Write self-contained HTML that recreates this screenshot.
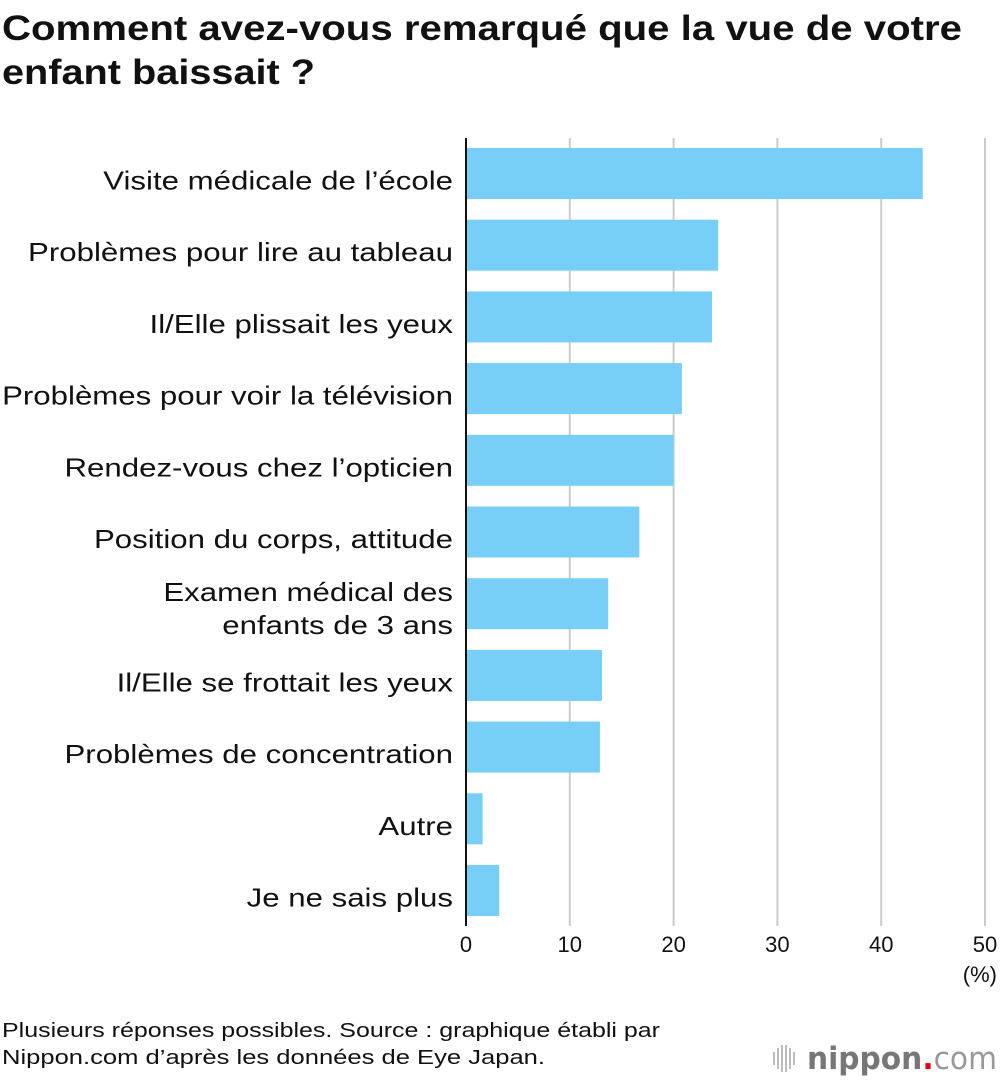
<!DOCTYPE html>
<html><head><meta charset="utf-8"><style>
body{margin:0;background:#fff;width:1000px;height:1080px;overflow:hidden;font-family:"Liberation Sans",sans-serif}
</style></head><body>
<svg id="chart" width="1000" height="1080" xmlns="http://www.w3.org/2000/svg">
<text x="2" y="40" font-size="35" font-weight="bold" fill="#111" textLength="960" lengthAdjust="spacingAndGlyphs">Comment avez-vous remarqué que la vue de votre</text>
<text x="2" y="84" font-size="35" font-weight="bold" fill="#111" textLength="313" lengthAdjust="spacingAndGlyphs">enfant baissait ?</text>
<g id="grid"></g><g id="bars"></g><g id="labels"></g><g id="ticks"></g>
<line x1="466" y1="138" x2="466" y2="926" stroke="#111" stroke-width="2"/>
<text x="997" y="982" font-size="22" text-anchor="end" fill="#111">(%)</text>
<text x="2" y="1037" font-size="20" fill="#111" textLength="658" lengthAdjust="spacingAndGlyphs">Plusieurs réponses possibles. Source : graphique établi par</text>
<text x="2" y="1064" font-size="20" fill="#111" textLength="543" lengthAdjust="spacingAndGlyphs">Nippon.com d’après les données de Eye Japan.</text>
<g>
<g fill="#bbb"><rect x="773" y="1052" width="2" height="13"/><rect x="777" y="1048" width="2" height="21"/><rect x="781" y="1045" width="2" height="27"/><rect x="785" y="1045" width="2" height="27"/><rect x="789" y="1048" width="2" height="21"/><rect x="793" y="1052" width="2" height="13"/></g>
<text x="807" y="1069" font-size="31" font-family="DejaVu Sans, sans-serif" font-weight="bold" fill="#777" textLength="190" lengthAdjust="spacingAndGlyphs">nippon<tspan fill="#e60012">.</tspan><tspan fill="#999" font-weight="normal">com</tspan></text>
</g>
</svg>
<script>
const categories=["Visite médicale de l’école","Problèmes pour lire au tableau","Il/Elle plissait les yeux","Problèmes pour voir la télévision","Rendez-vous chez l’opticien","Position du corps, attitude","Examen médical des|enfants de 3 ans","Il/Elle se frottait les yeux","Problèmes de concentration","Autre","Je ne sais plus"];
const values=[44.0,24.3,23.7,20.8,20.0,16.7,13.7,13.1,12.9,1.6,3.2];
const tickLabels=[0,10,20,30,40,50];
const NS="http://www.w3.org/2000/svg";
const x=v=>466+v*(985-466)/50;
const yTop=i=>148+i*71.7;
function mk(t,a,p){const e=document.createElementNS(NS,t);for(const k in a)e.setAttribute(k,a[k]);document.getElementById(p).appendChild(e);return e;}
tickLabels.forEach(t=>{
 if(t>0){const g=mk('line',{x1:x(t),x2:x(t),y1:138,y2:926,stroke:'#ccc','stroke-width':2},'grid');
 
 }
 const l=mk('text',{x:x(t),y:952,'font-size':22,'text-anchor':'middle',fill:'#111'},'ticks');
 l.textContent=t;
 
 
});
categories.forEach((c,i)=>{
 const b=mk('rect',{x:x(0),y:yTop(i),width:x(values[i])-x(0),height:51,fill:'#77cef7'},'bars');
 
 
 const parts=c.split('|');
 parts.forEach((p,j)=>{
  const cy=yTop(i)+25.5+(j-(parts.length-1)/2)*33+(parts.length>1?14:16);
  const t=mk('text',{x:453,y:cy,'font-size':26,'text-anchor':'end',fill:'#111'},'labels');
  t.textContent=p;
  
  
  const w=t.getComputedTextLength();
  t.setAttribute('textLength',w*1.2);
  t.setAttribute('lengthAdjust','spacingAndGlyphs');
 });
});
</script>
</body></html>
